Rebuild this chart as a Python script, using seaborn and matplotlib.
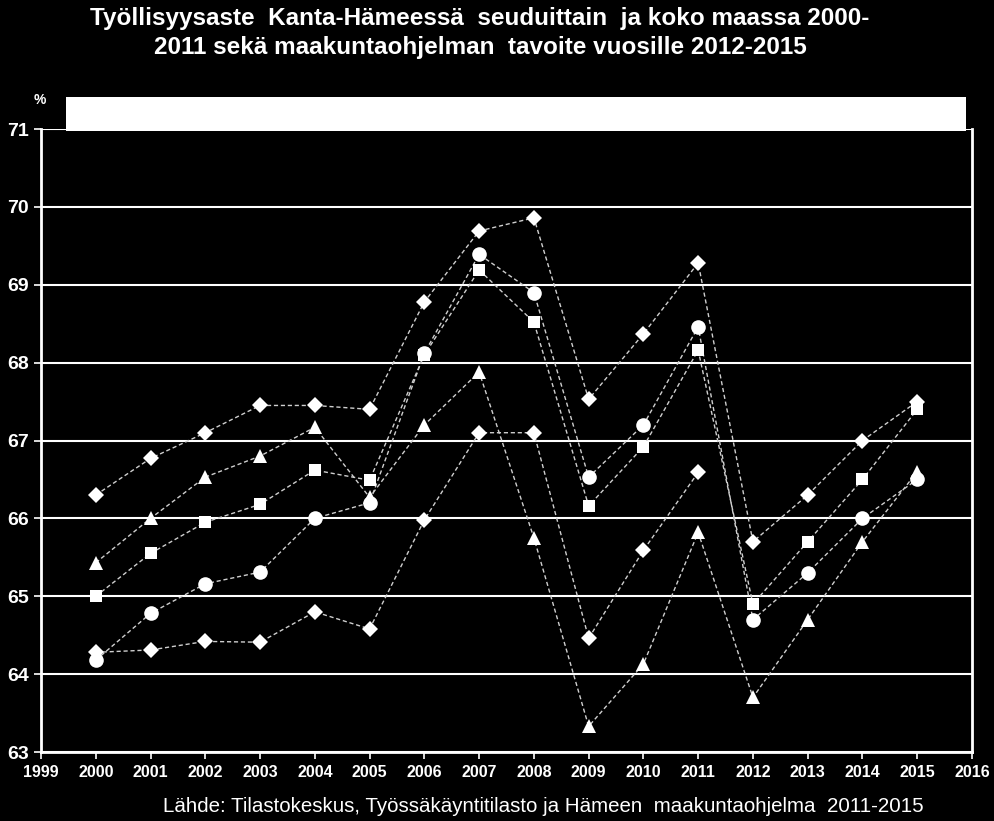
import matplotlib
matplotlib.use("Agg")
import matplotlib.pyplot as plt
import seaborn as sns
import pandas as pd
from matplotlib.patches import Rectangle

sns.set_theme(style="dark")
plt.rcParams['font.family'] = ['Liberation Sans Narrow', 'Liberation Sans', 'DejaVu Sans']

years_all = list(range(2000, 2016))
years_hist = list(range(2000, 2012))

# upper diamond series (2000-2011 + target 2012-2015)
s_diamond_hi = [66.3, 66.77, 67.1, 67.45, 67.45, 67.4, 68.78, 69.69, 69.86, 67.53, 68.37, 69.28,
                65.7, 66.3, 67.0, 67.5]
# triangle series
s_triangle = [65.43, 66.0, 66.53, 66.8, 67.17, 66.27, 67.2, 67.88, 65.75, 63.33, 64.13, 65.82,
              63.7, 64.7, 65.7, 66.6]
# square series
s_square = [65.0, 65.55, 65.95, 66.18, 66.62, 66.49, 68.1, 69.19, 68.52, 66.16, 66.92, 68.16,
            64.9, 65.7, 66.5, 67.4]
# circle series
s_circle = [64.18, 64.78, 65.16, 65.31, 66.0, 66.2, 68.12, 69.39, 68.9, 66.53, 67.2, 68.46,
            64.7, 65.3, 66.0, 66.5]
# lower diamond series (2000-2011)
s_diamond_lo = [64.28, 64.31, 64.42, 64.41, 64.8, 64.58, 65.98, 67.1, 67.1, 64.46, 65.59, 66.59]

x_ticks = list(range(1999, 2017))
y_ticks = list(range(63, 72))

title = "Työllisyysaste  Kanta-Hämeessä  seuduittain  ja koko maassa 2000-\n2011 sekä maakuntaohjelman  tavoite vuosille 2012-2015"
source = "Lähde: Tilastokeskus, Työssäkäyntitilasto ja Hämeen  maakuntaohjelma  2011-2015"

fig = plt.figure(figsize=(9.94, 8.21), dpi=100, facecolor="black")
ax = fig.add_axes([41/994, 1-752/821, (972-41)/994, (752-129)/821])
ax.set_facecolor("black")

series = [
    (years_all, s_diamond_hi, "D", 7.8),
    (years_all, s_triangle, "^", 9.5),
    (years_all, s_square, "s", 8.6),
    (years_all, s_circle, "o", 10.5),
    (years_hist, s_diamond_lo, "D", 7.8),
]
for xs, ys, mk, ms in series:
    df = pd.DataFrame({"year": xs, "value": ys})
    sns.lineplot(data=df, x="year", y="value", ax=ax, color="#cfcfcf", linewidth=1.0,
                 linestyle=(0, (3, 2)), zorder=3)
for xs, ys, mk, ms in series:
    df = pd.DataFrame({"year": xs, "value": ys})
    sns.lineplot(data=df, x="year", y="value", ax=ax, color="white", linewidth=0,
                 marker=mk, markersize=ms, markerfacecolor="white", markeredgecolor="white",
                 markeredgewidth=0, zorder=4)

ax.set_xlim(1999, 2016)
ax.set_ylim(63, 71)
ax.set_xticks(x_ticks)
ax.set_xticklabels([str(v) for v in x_ticks], fontsize=11.5, fontweight="bold", color="white")
ax.set_yticks(y_ticks)
ax.set_yticklabels([str(v) for v in y_ticks], fontsize=14, fontweight="bold", color="white")
ax.set_xlabel("")
ax.set_ylabel("")
ax.grid(False)
for v in y_ticks:
    ax.axhline(v, color="white", linewidth=1.5, zorder=1)
ax.tick_params(axis="both", which="both", direction="out", length=5, width=1.2, color="white",
               bottom=True, left=True, pad=4)
for side in ["left", "bottom", "right"]:
    ax.spines[side].set_visible(True)
    ax.spines[side].set_color("white")
    ax.spines[side].set_linewidth(2)
ax.spines["top"].set_visible(False)

fig.patches.append(Rectangle((66/994, 1-131/821), (966-66)/994, (131-97)/821,
                             transform=fig.transFigure, facecolor="white", edgecolor="none",
                             zorder=10))
fig.text(40/994, 1-100/821, "%", color="white", fontsize=10, fontweight="bold",
         ha="center", va="center")
fig.text(480/994, 1-33/821, title, color="white", fontsize=17.5, fontweight="bold",
         ha="center", va="center", linespacing=1.3)
fig.text(543/994, 1-806/821, source, color="white", fontsize=14.8, ha="center", va="center")

fig.savefig("out.png", dpi=100, facecolor="black")
